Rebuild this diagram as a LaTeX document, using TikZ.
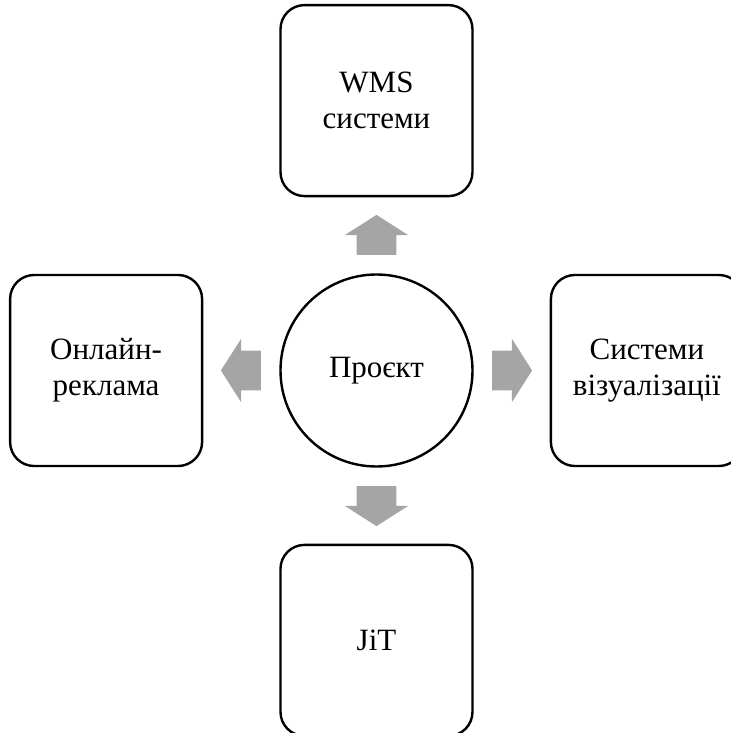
\documentclass[tikz,border=0pt]{standalone}
\usepackage{fontspec}
\setmainfont{Liberation Serif}
\usetikzlibrary{shapes.geometric, shapes.arrows, positioning}
\definecolor{arrowgray}{HTML}{A5A5A5}
\tikzstyle{hub} = [
    circle, 
    minimum size=96pt, 
    draw=black, 
    line width=1.2pt, 
    align=center, 
    font=\fontsize{15.5}{18}\selectfont
]
\tikzstyle{tool} = [
    rectangle, 
    rounded corners=12pt, 
    minimum width=96pt, 
    minimum height=95.5pt, 
    draw=black, 
    line width=1.2pt, 
    align=center, 
    font=\fontsize{15.5}{18}\selectfont
]
\tikzstyle{blockarrow} = [
    single arrow, 
    draw=none, 
    fill=arrowgray, 
    minimum height=20pt, 
    inner xsep=0pt, 
    inner ysep=9.75pt, 
    single arrow head extend=6pt, 
    single arrow tip angle=115, 
    sloped, 
    allow upside down, 
    anchor=tail, 
    pos=0.2368
]
\begin{document}
\begin{tikzpicture}[node distance=38pt]
    \useasboundingbox (-188.25pt,-181.25pt) rectangle (177.25pt,185.25pt);
    % Centre
    \node (proekt) [hub] at (0,0) {Проєкт};
    
    % Surrounding blocks
    \node (wms) [tool, above=of proekt] {WMS\\системи};
    \node (vizual) [tool, right=of proekt] {Системи\\візуалізації};
    \node (jit) [tool, below=of proekt] {JiT};
    \node (reklama) [tool, left=of proekt] {Онлайн-\\реклама};
    
    % Block arrows
    \path (proekt) -- node[blockarrow] {} (wms);
    \path (proekt) -- node[blockarrow] {} (vizual);
    \path (proekt) -- node[blockarrow] {} (jit);
    \path (proekt) -- node[blockarrow] {} (reklama);
\end{tikzpicture}
\end{document}
